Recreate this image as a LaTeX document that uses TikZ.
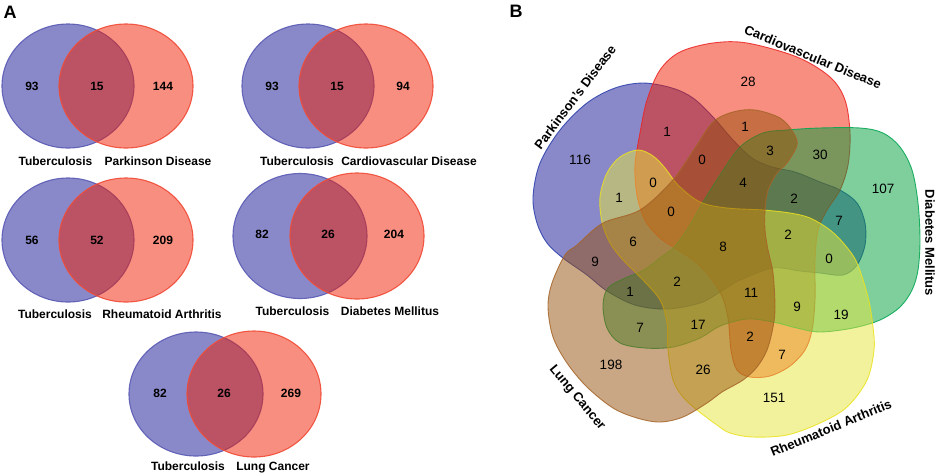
\documentclass[tikz,border=0pt]{standalone}
\usepackage{fontspec}
\setmainfont{Liberation Sans}
\definecolor{cB}{RGB}{20,20,150}
\definecolor{cR}{RGB}{240,30,0}
\definecolor{cG}{RGB}{0,160,60}
\definecolor{cY}{RGB}{230,230,60}
\definecolor{cL}{RGB}{150,80,10}
\definecolor{eB}{RGB}{40,60,170}
\definecolor{eR}{RGB}{235,35,35}
\definecolor{eG}{RGB}{0,165,80}
\definecolor{eY}{RGB}{235,225,30}
\definecolor{eL}{RGB}{165,100,40}
\definecolor{aB}{RGB}{90,90,180}
\definecolor{aR}{RGB}{240,75,55}
\tikzset{
  tbset/.style={fill=cB, fill opacity=0.5, draw=aB, draw opacity=0.9, line width=1.1pt},
  dzset/.style={fill=cR, fill opacity=0.5, draw=aR, draw opacity=0.9, line width=1.1pt},
  numA/.style={font=\fontsize{12}{14}\selectfont\bfseries, inner sep=0pt},
  labA/.style={font=\fontsize{12}{14}\selectfont\bfseries, inner sep=0pt, anchor=base},
  numB/.style={font=\fontsize{13.5}{16}\selectfont, inner sep=0pt},
  labB/.style={font=\fontsize{13}{15}\selectfont\bfseries, inner sep=0pt},
  panel/.style={font=\fontsize{18}{20}\selectfont\bfseries, inner sep=0pt},
  shB/.style={fill=cB, fill opacity=0.5, draw=eB, draw opacity=0.85, line width=0.9pt},
  shR/.style={fill=cR, fill opacity=0.5, draw=eR, draw opacity=0.85, line width=0.9pt},
  shG/.style={fill=cG, fill opacity=0.5, draw=eG, draw opacity=0.85, line width=0.9pt},
  shY/.style={fill=cY, fill opacity=0.5, draw=eY, draw opacity=0.85, line width=0.9pt},
  shL/.style={fill=cL, fill opacity=0.5, draw=eL, draw opacity=0.85, line width=0.9pt},
}
\begin{document}
\begin{tikzpicture}[x=1pt,y=-1pt]
\useasboundingbox (0,0) rectangle (941,475);
% ---------------- Panel A ----------------
\node[panel] (pA) at (10,12) {A};
% Venn 1
\draw[tbset] (68,86) ellipse [x radius=66pt, y radius=62pt];
\draw[dzset] (126,86) ellipse [x radius=67pt, y radius=62pt];
\node[numA] (a1l) at (32,86) {93};
\node[numA] (a1m) at (97,86) {15};
\node[numA] (a1r) at (163,86) {144};
\node[labA] (a1t) at (55.5,165) {Tuberculosis};
\node[labA] (a1d) at (158,165) {Parkinson Disease};
% Venn 2
\draw[tbset] (308,86) ellipse [x radius=66pt, y radius=62pt];
\draw[dzset] (366,86) ellipse [x radius=67pt, y radius=62pt];
\node[numA] (a2l) at (272,86) {93};
\node[numA] (a2m) at (337,86) {15};
\node[numA] (a2r) at (403,86) {94};
\node[labA] (a2t) at (297,165) {Tuberculosis};
\node[labA] (a2d) at (409,165) {Cardiovascular Disease};
% Venn 3
\draw[tbset] (68,240) ellipse [x radius=66pt, y radius=62pt];
\draw[dzset] (126,240) ellipse [x radius=67pt, y radius=62pt];
\node[numA] (a3l) at (32,240) {56};
\node[numA] (a3m) at (97,240) {52};
\node[numA] (a3r) at (163,240) {209};
\node[labA] (a3t) at (55,318) {Tuberculosis};
\node[labA] (a3d) at (162,318) {Rheumatoid Arthritis};
% Venn 4
\draw[tbset] (300,236) ellipse [x radius=67pt, y radius=62.5pt];
\draw[dzset] (357,236) ellipse [x radius=67pt, y radius=63pt];
\node[numA] (a4l) at (262,234) {82};
\node[numA] (a4m) at (328,234) {26};
\node[numA] (a4r) at (394,234) {204};
\node[labA] (a4t) at (292.5,315.5) {Tuberculosis};
\node[labA] (a4d) at (390,315.5) {Diabetes Mellitus};
% Venn 5
\draw[tbset] (196,394) ellipse [x radius=67pt, y radius=62pt];
\draw[dzset] (254,394) ellipse [x radius=67pt, y radius=63pt];
\node[numA] (a5l) at (160,393) {82};
\node[numA] (a5m) at (224,393) {26};
\node[numA] (a5r) at (291,393) {269};
\node[labA] (a5t) at (188,470.5) {Tuberculosis};
\node[labA] (a5d) at (273,470.5) {Lung Cancer};
% ---------------- Panel B ----------------
\node[panel] (pB) at (516,11) {B};
% Parkinson's (blue)
\draw[shB] plot[smooth cycle, tension=0.55] coordinates {
 (643,83) (672,88) (693,98) (713,117) (733,140) (752,158) (772,167) (795,172)
 (820,182) (840,190) (857,203) (865,223) (865,245) (857,265) (843,275) (820,273)
 (800,271) (773,268) (740,280) (720,292) (700,303) (667,309) (635,305) (607,291)
 (587,275) (563,258) (547,243) (537,223) (533,197) (540,163) (560,130) (587,103) (615,88)};
% Cardiovascular (red)
\draw[shR] plot[smooth cycle, tension=0.55] coordinates {
 (640,133) (647,100) (660,70) (680,52) (713,43) (747,43) (797,57) (830,77)
 (845,100) (850,133) (848,165) (840,190) (827,210) (818,230) (815,260) (815,300)
 (812,330) (805,350) (790,366) (770,376) (750,377) (737,370) (731,350) (728,318)
 (720,292) (700,266) (678,250) (660,238) (645,220) (637,195) (635,165)};
% Diabetes (green)
\draw[shG] plot[smooth cycle, tension=0.55] coordinates {
 (787,130) (820,128) (860,128) (883,133) (900,147) (912,170) (918,203) (920,240)
 (918,270) (912,290) (900,307) (880,320) (853,328) (820,332) (797,328) (773,322)
 (747,319) (720,326) (700,338) (673,347) (645,348) (620,343) (607,328) (603,305)
 (608,288) (625,278) (642,271) (660,258) (674,247) (688,228) (703,202) (720,175)
 (740,147) (763,133)};
% Rheumatoid (yellow)
\draw[shY] plot[smooth cycle, tension=0.55] coordinates {
 (610,243) (602,222) (600,197) (607,173) (620,157) (638,150) (653,156) (665,168)
 (678,185) (700,202) (727,208) (763,210) (790,213) (810,218) (830,230) (845,245)
 (857,263) (868,297) (873,327) (874,350) (867,380) (847,407) (820,423) (787,435)
 (753,437) (730,433) (717,425) (697,410) (683,397) (673,380) (668,350) (667,323)
 (660,300) (643,280) (623,260)};
% Lung cancer (brown)
\draw[shL] plot[smooth cycle, tension=0.55] coordinates {
 (565,255) (577,245) (603,223) (640,210) (672,181) (695,148) (713,122) (733,112)
 (755,110) (780,118) (793,132) (797,145) (787,163) (777,173) (768,190) (765,210)
 (765,230) (768,250) (773,273) (775,307) (773,327) (767,350) (757,367) (743,380)
 (722,392) (707,403) (683,417) (660,422) (637,418) (613,408) (587,387) (567,363)
 (553,337) (548,307) (552,283)};
% numbers
\node[numB] (b116) at (580,160) {116};
\node[numB] (b28) at (748,82) {28};
\node[numB] (b1a) at (667,132) {1};
\node[numB] (b1b) at (745,127) {1};
\node[numB] (b0a) at (702,160) {0};
\node[numB] (b3) at (770,151) {3};
\node[numB] (b30) at (820,155) {30};
\node[numB] (b107) at (883,189) {107};
\node[numB] (b1c) at (619,198) {1};
\node[numB] (b0b) at (653,183) {0};
\node[numB] (b4) at (743,183) {4};
\node[numB] (b2a) at (794,199) {2};
\node[numB] (b0c) at (671,212) {0};
\node[numB] (b7a) at (839,221) {7};
\node[numB] (b2b) at (788,235) {2};
\node[numB] (b6) at (633,242) {6};
\node[numB] (b8) at (723,247) {8};
\node[numB] (b9a) at (595,262) {9};
\node[numB] (b0d) at (829,259) {0};
\node[numB] (b1d) at (630,292) {1};
\node[numB] (b2c) at (677,282) {2};
\node[numB] (b11) at (751,293) {11};
\node[numB] (b9b) at (797,307) {9};
\node[numB] (b19) at (841,315) {19};
\node[numB] (b7b) at (640,328) {7};
\node[numB] (b17) at (698,325) {17};
\node[numB] (b2d) at (750,337) {2};
\node[numB] (b7c) at (782,355) {7};
\node[numB] (b198) at (611,365) {198};
\node[numB] (b26) at (703,370) {26};
\node[numB] (b151) at (774,398) {151};
% set labels
\node[labB, rotate=53] (lPD) at (575,97) {Parkinson's Disease};
\node[labB, rotate=-22.4] (lCD) at (813,57) {Cardiovascular Disease};
\node[labB, rotate=-90] (lDM) at (930,243) {Diabetes Mellitus};
\node[labB, rotate=22.3] (lRA) at (831,428) {Rheumatoid Arthritis};
\node[labB, rotate=-50] (lLC) at (577,398) {Lung Cancer};
\end{tikzpicture}
\end{document}
